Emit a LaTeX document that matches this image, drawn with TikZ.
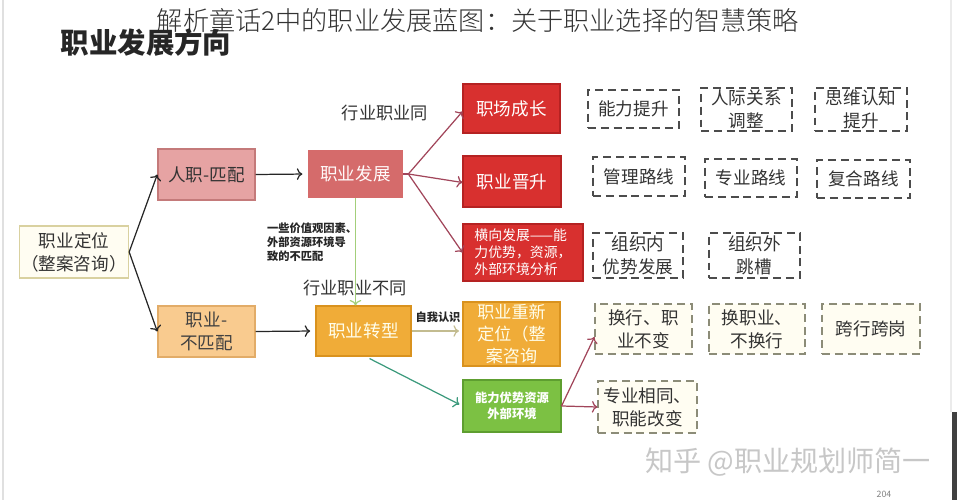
\documentclass[tikz,border=0pt]{standalone}
\usepackage{fontspec}
\setmainfont{Noto Sans CJK SC}
\newfontfamily\thinfont{Noto Sans CJK SC Light}
\usepackage{tikz}
\usetikzlibrary{arrows.meta,calc}
\definecolor{tanline}{HTML}{D9D1A0}
\definecolor{cream}{HTML}{FFFDF2}
\definecolor{pinkfill}{HTML}{E6A3A3}
\definecolor{pinkline}{HTML}{C47A7A}
\definecolor{rosefill}{HTML}{D56B6B}
\definecolor{redfill}{HTML}{D8302F}
\definecolor{redline}{HTML}{B52222}
\definecolor{peach}{HTML}{F9CB8F}
\definecolor{peachline}{HTML}{E2AC68}
\definecolor{orangefill}{HTML}{F0AC38}
\definecolor{orangeline}{HTML}{D9921E}
\definecolor{greenfill}{HTML}{7CC143}
\definecolor{greenline}{HTML}{5E9E30}
\definecolor{wine}{HTML}{A1455A}
\definecolor{lightgreen}{HTML}{A3CF7A}
\definecolor{teal}{HTML}{3C9A7C}
\definecolor{olive}{HTML}{8C8C78}

\begin{document}
\begin{tikzpicture}[x=0.02cm,y=-0.02cm,
  txt/.style={font=\fontsize{10}{13}\selectfont},
  plain/.style={draw=tanline,fill=cream,line width=0.8pt,txt,text=black!80,align=center,inner sep=1pt},
  pinkbox/.style={draw=pinkline,fill=pinkfill,line width=0.8pt,txt,text=black!80,align=center,inner sep=1pt},
  peachbox/.style={draw=peachline,fill=peach,line width=0.8pt,txt,text=black!75,align=center,inner sep=1pt},
  rosebox/.style={fill=rosefill,txt,text=white!92!pink,align=center,inner sep=1pt},
  redbox/.style={draw=redline,fill=redfill,line width=0.6pt,txt,text=white,align=center,inner sep=1pt},
  orbox/.style={draw=orangeline,fill=orangefill,line width=0.6pt,txt,text=yellow!8,align=center,inner sep=1pt},
  dashbox/.style={draw=black!70,dash pattern=on 4.5pt off 2.8pt,line width=0.65pt,txt,text=black!80,align=center,inner sep=1pt},
  oldash/.style={draw=olive,fill=cream,dash pattern=on 4.5pt off 2.8pt,line width=0.65pt,txt,text=black!80,align=center,inner sep=1pt},
  lbl/.style={font=\fontsize{9.8}{12}\selectfont,text=black!80},
  note/.style={font=\fontsize{6.4}{8}\selectfont\bfseries,text=black!85},
  arr/.style={->,line width=0.7pt}]
\useasboundingbox (0,0) rectangle (957,500);
% frame
\draw[black!12,line width=1pt] (3,0)--(3,500);
\draw[black!8,line width=1pt] (951,0)--(951,412);
\fill[black!75] (952,412) rectangle (957,500);

% titles
\node[font=\thinfont\fontsize{14.9}{18}\selectfont,text=black!80] (title) at (478,20) {解析童话2中的职业发展蓝图：关于职业选择的智慧策略};
\node[font=\fontsize{16.2}{18}\selectfont\bfseries,text=black!85] (head) at (146,43) {职业发展方向};

% left part
\node[plain,minimum width=2.16cm,minimum height=1.04cm] (dingwei) at (74,252) {职业定位\\（整案咨询）};
\node[pinkbox,minimum width=1.94cm,minimum height=1.02cm] (pipei) at (206.5,174.5) {人职-匹配};
\node[peachbox,minimum width=1.94cm,minimum height=1.02cm] (bupipei) at (206.5,331.5) {职业-\\不匹配};
\node[rosebox,minimum width=1.9cm,minimum height=0.96cm] (fazhan) at (355.5,174) {职业发展};
\node[orbox,minimum width=1.9cm,minimum height=1cm] (zhuanxing) at (363.5,331) {职业转型};

% middle column
\node[redbox,minimum width=1.94cm,minimum height=0.98cm] (chengzhang) at (511.5,108.5) {职场成长};
\node[redbox,minimum width=1.96cm,minimum height=1.02cm] (jinsheng) at (512,181.5) {职业晋升};
\node[redbox,minimum width=2.4cm,minimum height=1.14cm,align=left,font=\fontsize{7.9}{9.7}\selectfont] (hengxiang) at (523,252.5) {横向发展——能\\力优势，资源，\\外部环境分析};
\node[orbox,minimum width=1.94cm,minimum height=1.28cm,font=\fontsize{9.7}{12.5}\selectfont] (chongxin) at (511.5,334) {职业重新\\定位（整\\案咨询};
\node[draw=greenline,fill=greenfill,line width=0.6pt,minimum width=1.96cm,minimum height=1.04cm,font=\fontsize{7}{9}\selectfont\bfseries,text=white,align=center] (youshi) at (512,406) {能力优势资源\\外部环境};

% dashed boxes
\node[dashbox,minimum width=1.82cm,minimum height=0.76cm] (nengli) at (633.5,109) {能力提升};
\node[dashbox,minimum width=1.82cm,minimum height=0.86cm] (renji) at (746.5,109.5) {人际关系\\调整};
\node[dashbox,minimum width=1.84cm,minimum height=0.86cm] (siwei) at (861,109.5) {思维认知\\提升};
\node[dashbox,minimum width=1.84cm,minimum height=0.78cm] (guanli) at (639,176.5) {管理路线};
\node[dashbox,minimum width=1.84cm,minimum height=0.76cm] (zhuanye) at (751,178) {专业路线};
\node[dashbox,minimum width=1.86cm,minimum height=0.76cm] (fuhe) at (863.5,179) {复合路线};
\node[dashbox,minimum width=1.8cm,minimum height=0.9cm] (zuzhinei) at (638,255.5) {组织内\\优势发展};
\node[dashbox,minimum width=1.82cm,minimum height=0.9cm] (zuzhiwai) at (754.5,255.5) {组织外\\跳槽};
\node[oldash,minimum width=1.94cm,minimum height=1cm] (huanhang) at (643.5,329) {换行、职\\业不变};
\node[oldash,minimum width=1.92cm,minimum height=1cm] (huanzhiye) at (757,329) {换职业、\\不换行};
\node[oldash,minimum width=1.96cm,minimum height=1cm] (kuahang) at (871,329) {跨行跨岗};
\node[oldash,minimum width=1.98cm,minimum height=1.04cm] (zhineng) at (647.5,407) {专业相同、\\职能改变};

% labels
\node[lbl] (tong) at (385,113) {行业职业同};
\node[lbl] (butong) at (355,288) {行业职业不同};
\node[note,anchor=west,align=left] (yinsu) at (261,242) {一些价值观因素、\\外部资源环境导\\致的不匹配};
\node[note] (renshi) at (438,317) {自我认识};

% connectors
\coordinate (fz) at ($(fazhan.east)+(5,0)$);
\draw[arr,black!85] (dingwei.east) -- (pipei.west);
\draw[arr,black!85] (dingwei.east) -- (bupipei.west);
\draw[arr,black!85,shorten >=3pt] (pipei.east) -- (fazhan.west);
\draw[arr,black!85,shorten >=3pt] (bupipei.east) -- (zhuanxing.west);
\draw[wine,line width=0.7pt] (fazhan.east) -- (fz);
\draw[arr,wine] (fz) -- ($(chengzhang.west)+(0,3)$);
\draw[arr,wine] (fz) -- ($(jinsheng.west)+(0,1)$);
\draw[arr,wine] (fz) -- (hengxiang.west);
\draw[arr,lightgreen] (fazhan.south) -- (fazhan.south |- zhuanxing.north);
\draw[arr,tanline!90!black,shorten >=2pt] (zhuanxing.east) -- (zhuanxing.east -| chongxin.west);
\draw[arr,teal,shorten >=2pt] ($(zhuanxing.south)+(6,2)$) -- (youshi.west);
\draw[arr,wine] (youshi.east) -- ($(huanhang.west)+(0,8)$);
\draw[arr,wine] (youshi.east) -- (zhineng.west);

% watermark
\node[font=\fontsize{16}{18}\selectfont,text=black!22] (zhihu) at (788,462) {知乎 @职业规划师简一};
\node[font=\fontsize{5}{6}\selectfont,text=black!50] (page) at (884,494) {204};
\end{tikzpicture}
\end{document}
